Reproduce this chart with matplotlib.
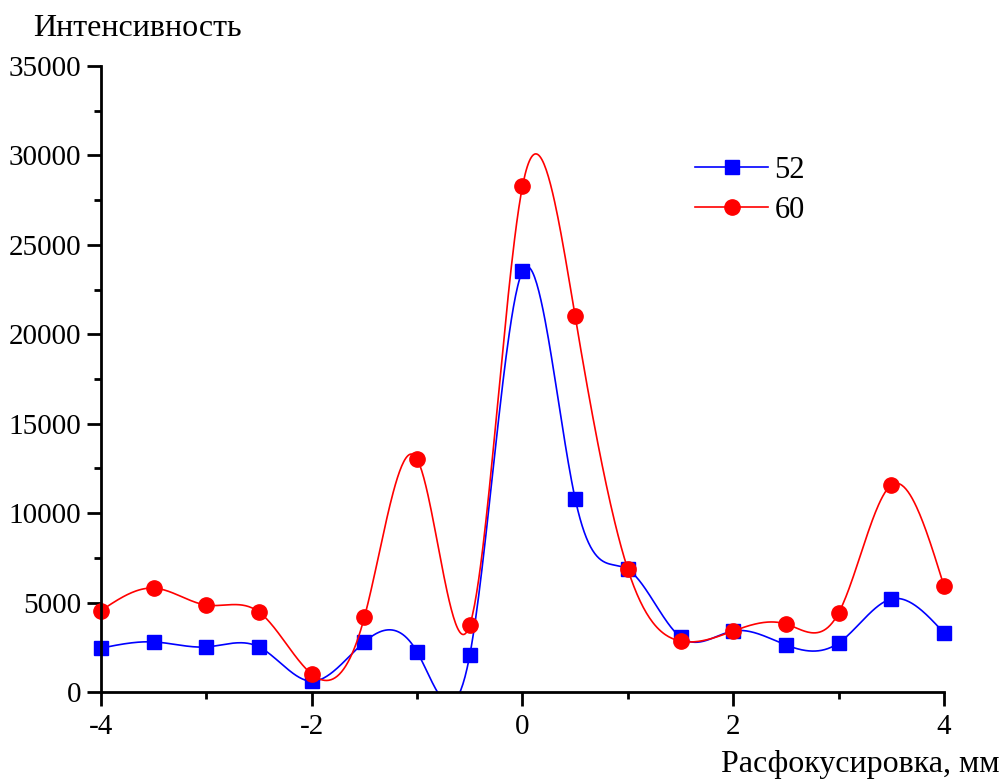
import numpy as np
import matplotlib
matplotlib.use("Agg")
import matplotlib.pyplot as plt
from matplotlib.ticker import MultipleLocator

plt.rcParams['font.family'] = ['Liberation Serif', 'DejaVu Serif']
plt.rcParams['axes.unicode_minus'] = False

# data
defocus = [-4, -3.5, -3, -2.5, -2, -1.5, -1, -0.5, 0, 0.5, 1, 1.5, 2, 2.5, 3, 3.5, 4]
series_52 = [2450, 2800, 2520, 2520, 600, 2800, 2240, 2070, 23530, 10800, 6850,
             3070, 3410, 2630, 2740, 5200, 3300]
series_60 = [4550, 5810, 4860, 4470, 1000, 4190, 13020, 3750, 28280, 21000, 6850,
             2850, 3410, 3800, 4420, 11570, 5920]


def natural_spline(x, y, xs):
    # plain natural cubic spline, like Origin's "Spline" connect mode
    x = np.asarray(x, float)
    y = np.asarray(y, float)
    n = len(x)
    h = np.diff(x)
    A = np.zeros((n, n))
    b = np.zeros(n)
    A[0, 0] = A[-1, -1] = 1
    for i in range(1, n - 1):
        A[i, i - 1] = h[i - 1]
        A[i, i] = 2 * (h[i - 1] + h[i])
        A[i, i + 1] = h[i]
        b[i] = 3 * ((y[i + 1] - y[i]) / h[i] - (y[i] - y[i - 1]) / h[i - 1])
    c = np.linalg.solve(A, b)
    idx = np.clip(np.searchsorted(x, xs) - 1, 0, n - 2)
    dx = xs - x[idx]
    hi = h[idx]
    bb = (y[idx + 1] - y[idx]) / hi - hi * (2 * c[idx] + c[idx + 1]) / 3
    dd = (c[idx + 1] - c[idx]) / (3 * hi)
    return y[idx] + bb * dx + c[idx] * dx ** 2 + dd * dx ** 3


fig = plt.figure(figsize=(10.03, 7.8), dpi=100)
ax = fig.add_axes([101 / 1003, 88 / 780, 843 / 1003, 626 / 780])

xs = np.linspace(defocus[0], defocus[-1], 800)
for vals, col, mk, ms, lab in [(series_52, 'blue', 's', 9.5, '52'),
                               (series_60, 'red', 'o', 11, '60')]:
    ax.plot(xs, natural_spline(defocus, vals, xs), color=col, lw=1.2)
    ax.plot(defocus, vals, linestyle='none', marker=mk, ms=ms, color=col, clip_on=False)
    ax.plot([], [], color=col, lw=1.2, marker=mk, ms=ms, label=lab)

ax.set_xlim(-4, 4)
ax.set_ylim(0, 35000)
ax.xaxis.set_major_locator(MultipleLocator(2))
ax.xaxis.set_minor_locator(MultipleLocator(1))
ax.yaxis.set_major_locator(MultipleLocator(5000))
ax.yaxis.set_minor_locator(MultipleLocator(2500))
for s in ['top', 'right']:
    ax.spines[s].set_visible(False)
for s in ['left', 'bottom']:
    ax.spines[s].set_linewidth(2)
ax.tick_params(which='major', direction='out', length=10, width=2, labelsize=21, pad=6)
ax.tick_params(axis='y', which='major', pad=4)
ax.tick_params(which='minor', direction='out', length=5, width=2)

leg = ax.legend(loc='upper left', bbox_to_anchor=(0.672, 0.9), frameon=False,
                fontsize=22, handlelength=2.4, labelspacing=0.35, handletextpad=0.2)

fig.text(33 / 1003, 1 - 36 / 780, 'Интенсивность', fontsize=23, va='baseline', ha='left')
fig.text(1000 / 1003, 1 - 772 / 780, 'Расфокусировка, мм', fontsize=23, va='baseline', ha='right')

fig.savefig('out.png', dpi=100)
